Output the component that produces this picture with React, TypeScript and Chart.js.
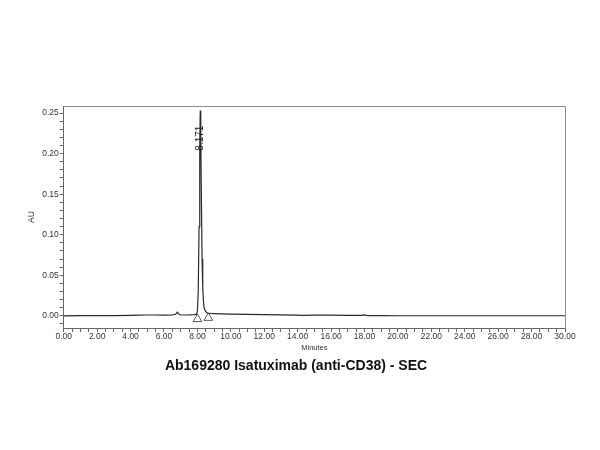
import { useEffect, useRef } from "react";
import { Chart, registerables } from "chart.js";

Chart.register(...registerables);

// chromatogram trace, minutes vs AU
const traceTimes = [
  0, 1, 2, 3, 4, 4.5, 5, 5.5, 6, 6.5, 6.7, 6.8, 6.9, 7.0, 7.5, 7.8, 7.95, 8.0,
  8.05, 8.1, 8.14, 8.171, 8.2, 8.24, 8.28, 8.32, 8.36, 8.4, 8.5, 8.6, 8.8, 9.0,
  9.5, 10, 11, 12, 13, 14, 14.3, 15, 16, 17, 17.8, 18, 18.2, 19, 20, 22, 24,
  26, 28, 30,
];
const traceValues = [
  0.0, 0.0002, 0.0002, 0.0003, 0.0005, 0.0008, 0.001, 0.001, 0.0008, 0.001,
  0.002, 0.0045, 0.002, 0.001, 0.0012, 0.0015, 0.002, 0.006, 0.03, 0.11, 0.21,
  0.253, 0.225, 0.14, 0.07, 0.035, 0.018, 0.01, 0.005, 0.0035, 0.003, 0.0028,
  0.0025, 0.0022, 0.0018, 0.0015, 0.0012, 0.0008, 0.0005, 0.0008, 0.0008,
  0.0006, 0.0005, 0.0012, 0.0003, 0.0002, 0.0001, 0.0001, 0.0001, 0.0001,
  0.0001, 0.0001,
];

// integration markers (peak start / end)
const markerTimes = [8.0, 8.65];
const markerValues = [-0.004, -0.0025];

const peakTime = 8.171;
const peakHeight = 0.253;
const peakLabel = "8.171";

const xMajorTicks = [0, 2, 4, 6, 8, 10, 12, 14, 16, 18, 20, 22, 24, 26, 28, 30];
const xMinorStep = 0.5;
const yMajorTicks = [0, 0.05, 0.1, 0.15, 0.2, 0.25];
const yMinorStep = 0.01;

const chartTitle = "Ab169280 Isatuximab (anti-CD38) - SEC";
const font = "'Liberation Sans', Arial, sans-serif";

const isMajor = (v: number, majors: number[]) =>
  majors.some((m) => Math.abs(m - v) < 1e-6);

const frameAndLabel = {
  id: "frameAndLabel",
  afterDatasetsDraw(chart: Chart) {
    const { ctx, chartArea, scales } = chart;
    ctx.save();
    ctx.strokeStyle = "#8a8a8a";
    ctx.lineWidth = 1;
    ctx.beginPath();
    ctx.moveTo(chartArea.left, chartArea.top + 0.5);
    ctx.lineTo(chartArea.right + 0.5, chartArea.top + 0.5);
    ctx.lineTo(chartArea.right + 0.5, chartArea.bottom);
    ctx.stroke();

    // peak retention time, written vertically down from the apex
    const px = scales.x.getPixelForValue(peakTime);
    const py = scales.y.getPixelForValue(peakHeight);
    ctx.translate(px, py + 15);
    ctx.rotate(-Math.PI / 2);
    ctx.font = `10px ${font}`;
    ctx.fillStyle = "#222";
    ctx.textAlign = "right";
    ctx.textBaseline = "middle";
    ctx.fillText(peakLabel, 0, 0);
    ctx.restore();
  },
};

export default function App() {
  const canvasRef = useRef<HTMLCanvasElement | null>(null);
  const chartRef = useRef<Chart | null>(null);

  useEffect(() => {
    if (!canvasRef.current) return;
    const ctx = canvasRef.current.getContext("2d");
    if (!ctx) return;

    chartRef.current = new Chart(ctx, {
      type: "scatter",
      data: {
        datasets: [
          {
            data: traceTimes.map((t, i) => ({ x: t, y: traceValues[i] })),
            showLine: true,
            borderColor: "#2a2a2a",
            borderWidth: 1.2,
            pointRadius: 0,
            tension: 0,
          },
          {
            data: markerTimes.map((t, i) => ({ x: t, y: markerValues[i] })),
            pointStyle: "triangle",
            pointRadius: 5,
            borderColor: "#555",
            borderWidth: 1,
            backgroundColor: "rgba(255,255,255,0)",
          },
        ],
      },
      options: {
        responsive: false,
        animation: false,
        layout: { padding: { left: 27, top: 106, right: 35, bottom: 75 } },
        plugins: {
          legend: { display: false },
          tooltip: { enabled: false },
          title: {
            display: true,
            position: "bottom",
            text: chartTitle,
            color: "#111",
            font: { family: font, size: 14, weight: "bold" },
            padding: { top: 6, bottom: 0 },
          },
        },
        scales: {
          x: {
            type: "linear",
            min: 0,
            max: 30,
            afterBuildTicks: (axis) => {
              const n = Math.round(30 / xMinorStep);
              axis.ticks = Array.from({ length: n + 1 }, (_, i) => ({
                value: i * xMinorStep,
              }));
            },
            ticks: {
              autoSkip: false,
              maxRotation: 0,
              padding: 0,
              color: "#333",
              font: { family: font, size: 8.5 },
              callback: (v) =>
                isMajor(Number(v), xMajorTicks) ? Number(v).toFixed(2) : "",
            },
            grid: {
              drawOnChartArea: false,
              tickLength: 4,
              tickColor: "#666",
            },
            border: { color: "#666" },
            title: {
              display: true,
              text: "Minutes",
              color: "#333",
              font: { family: font, size: 7.5 },
              padding: { top: 1, bottom: 0 },
            },
          },
          y: {
            type: "linear",
            min: -0.015,
            max: 0.2587,
            afterBuildTicks: (axis) => {
              const n = Math.round(0.26 / yMinorStep);
              axis.ticks = Array.from({ length: n + 1 }, (_, i) => ({
                value: -0.01 + i * yMinorStep,
              }));
            },
            ticks: {
              autoSkip: false,
              padding: 1,
              color: "#333",
              font: { family: font, size: 8.5 },
              callback: (v) =>
                isMajor(Number(v), yMajorTicks) ? Number(v).toFixed(2) : "",
            },
            grid: {
              drawOnChartArea: false,
              tickLength: 4,
              tickColor: "#666",
            },
            border: { color: "#666" },
            title: {
              display: true,
              text: "AU",
              color: "#333",
              font: { family: font, size: 8.5 },
              padding: { top: 0, bottom: 4 },
            },
          },
        },
      },
      plugins: [frameAndLabel],
    });

    return () => {
      chartRef.current?.destroy();
      chartRef.current = null;
    };
  }, []);

  return (
    <div
      style={{
        position: "fixed",
        left: 0,
        top: 0,
        width: 600,
        height: 450,
        background: "#fff",
      }}
    >
      <canvas ref={canvasRef} width={600} height={450} />
    </div>
  );
}
